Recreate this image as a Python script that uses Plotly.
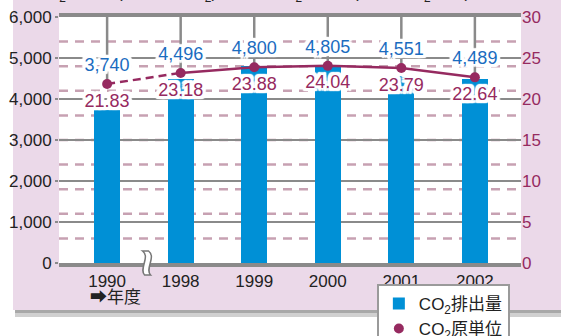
import plotly.graph_objects as go

years = ["1990", "1998", "1999", "2000", "2001", "2002"]
emissions = [3740, 4496, 4800, 4805, 4551, 4489]
intensity = [21.83, 23.18, 23.88, 24.04, 23.79, 22.64]
emission_labels = ["3,740", "4,496", "4,800", "4,805", "4,551", "4,489"]
intensity_labels = ["21.83", "23.18", "23.88", "24.04", "23.79", "22.64"]
left_ticks = [0, 1000, 2000, 3000, 4000, 5000, 6000]
right_ticks = [0, 5, 10, 15, 20, 25, 30]
right_dash_grid = [3, 6, 9, 12, 15, 18, 21, 24, 27]
right_max = 30

BLUE = "#0090d6"
BLUE_TXT = "#1b6cbf"
MAROON = "#962a60"
GRAY = "#8a8a8a"
PINK = "#c7a1b2"
PANEL = "#ebd9e9"
FONT = "Liberation Sans, Arial, 'Noto Sans CJK JP', sans-serif"

halo = ", ".join(f"{dx}px {dy}px 1px white" for dx in (-3, -2, 0, 2, 3) for dy in (-3, -2, 0, 2, 3))

fig = go.Figure()

fig.add_trace(go.Bar(
    x=years, y=emissions, width=0.35, marker=dict(color=BLUE, line=dict(width=0)),
    name="CO<sub>2</sub>排出量", yaxis="y",
))

# drop lines from the top frame down to each marker (error bars)
fig.add_trace(go.Scatter(
    x=years, y=intensity, mode="markers", marker=dict(size=1, opacity=0),
    error_y=dict(type="data", symmetric=False,
                 array=[right_max - v for v in intensity], arrayminus=[0] * len(intensity),
                 width=0, thickness=2.5, color=GRAY),
    yaxis="y2", showlegend=False, hoverinfo="skip"))

# dashed segment across the break, solid afterwards
fig.add_trace(go.Scatter(x=years[:2], y=intensity[:2], mode="lines",
                         line=dict(color=MAROON, width=2.5, dash="8px,5px"),
                         yaxis="y2", showlegend=False))
fig.add_trace(go.Scatter(x=years[1:], y=intensity[1:], mode="lines",
                         line=dict(color=MAROON, width=2.5),
                         yaxis="y2", showlegend=False))

# emission value labels (above markers)
fig.add_trace(go.Scatter(x=years, y=intensity, mode="markers+text", text=emission_labels,
                         textposition="top center",
                         marker=dict(size=12, opacity=0),
                         textfont=dict(size=18, color=BLUE_TXT, family=FONT, shadow=halo),
                         yaxis="y2", showlegend=False, hoverinfo="skip"))
# intensity value labels (below markers)
fig.add_trace(go.Scatter(x=years, y=intensity, mode="markers+text", text=intensity_labels,
                         textposition="bottom center",
                         marker=dict(size=13, opacity=0),
                         textfont=dict(size=18, color=MAROON, family=FONT, shadow=halo),
                         yaxis="y2", showlegend=False, hoverinfo="skip"))

fig.add_trace(go.Scatter(x=years, y=intensity, mode="markers",
                         marker=dict(color=MAROON, size=10),
                         name="CO<sub>2</sub>原単位", yaxis="y2"))

shapes = [
    # panel background + shadow
    dict(type="rect", xref="paper", yref="paper", x0=-0.0952, x1=1.2, y0=-0.2195, y1=-0.191,
         fillcolor="#d0d0d0", line=dict(width=0), layer="below"),
    dict(type="rect", xref="paper", yref="paper", x0=-0.0952, x1=1.2, y0=-0.203, y1=-0.191,
         fillcolor="#a8a8a8", line=dict(width=0), layer="below"),
    dict(type="rect", xref="paper", yref="paper", x0=-0.0996, x1=1.2, y0=-0.191, y1=1.2,
         fillcolor=PANEL, line=dict(width=0), layer="below"),
    dict(type="rect", xref="paper", yref="paper", x0=0, x1=1, y0=0, y1=1,
         fillcolor="white", line=dict(width=0), layer="below"),
    # axis break symbol
    dict(type="path", xref="x", yref="paper", xsizemode="pixel", ysizemode="pixel",
         xanchor=0.55, yanchor=0,
         path="M -5,12 C 3,6 -9,-6 -3,-12 L 3,-12 C -3,-6 9,6 1,12 Z",
         fillcolor="white", line=dict(color="#777", width=1.5), layer="above"),
]
# pink dashed guide lines on the right-hand scale
for g in right_dash_grid:
    shapes.append(dict(type="line", xref="paper", yref="y2", x0=0, x1=1, y0=g, y1=g,
                       line=dict(color=PINK, width=2.5, dash="9px,7px"), layer="below"))

annotations = [
    dict(text="➡年度", xref="paper", yref="paper", x=0.062, y=-0.14, xanchor="left",
         yanchor="middle", showarrow=False, font=dict(size=17, color="#222", family=FONT)),
    dict(text="▼CO<sub>2</sub>排出量(千トン-CO<sub>2</sub>)", xref="paper", yref="paper",
         x=-0.095, y=1.042, xanchor="left", yanchor="bottom", showarrow=False,
         font=dict(size=17, color="#222", family=FONT)),
    dict(text="CO<sub>2</sub>原単位(トン-CO<sub>2</sub>/千kl)▼", xref="paper", yref="paper",
         x=0.452, y=1.042, xanchor="left", yanchor="bottom", showarrow=False,
         font=dict(size=17, color="#222", family=FONT)),
]

fig.update_layout(
    width=561, height=336,
    margin=dict(l=59, r=40, t=17, b=73, autoexpand=False),
    paper_bgcolor="white", plot_bgcolor="rgba(0,0,0,0)",
    font=dict(family=FONT, size=17, color="#222"),
    showlegend=True,
    legend=dict(x=0.688, y=-0.085, xanchor="left", yanchor="top",
                bgcolor="white", bordercolor="#9a9a9a", borderwidth=2,
                font=dict(size=17, color="#222", family=FONT),
                tracegroupgap=0, itemwidth=30),
    xaxis=dict(type="category", categoryorder="array", categoryarray=years,
               range=[-0.654, 5.627], showgrid=False, showline=True, mirror=True,
               linecolor=GRAY, linewidth=4, ticks="", tickfont=dict(size=17, color="#222"),
               zeroline=False, layer="above traces"),
    yaxis=dict(range=[0, 6000], tickvals=left_ticks, tickformat=",", showgrid=True,
               gridcolor=GRAY, gridwidth=2, griddash="solid", zeroline=False, showline=False,
               ticks="outside", ticklen=3, tickwidth=2, tickcolor=GRAY,
               tickfont=dict(size=17, color="#222")),
    yaxis2=dict(range=[0, right_max], tickvals=right_ticks, overlaying="y", side="right",
                showgrid=False, zeroline=False, showline=False, ticks="",
                tickfont=dict(size=17, color=MAROON)),
    bargap=0,
    shapes=shapes, annotations=annotations,
)

fig.write_html("out.html")
